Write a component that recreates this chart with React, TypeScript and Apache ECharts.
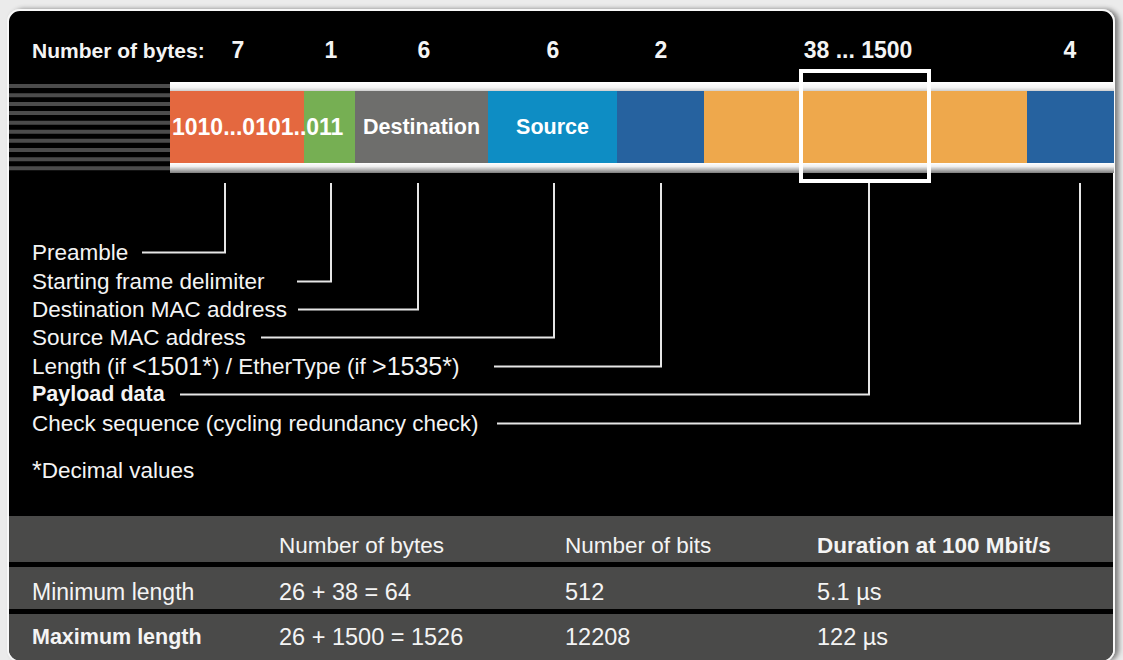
import React, { useEffect, useRef } from "react";
import * as echarts from "echarts";

// ---------------- data ----------------
const headerLabel = "Number of bytes:";
const fieldNames = [
  "Preamble",
  "Starting frame delimiter",
  "Destination MAC address",
  "Source MAC address",
  "Length (if <1501*) / EtherType (if >1535*)",
  "Payload data",
  "Check sequence (cycling redundancy check)",
];
const byteCounts = ["7", "1", "6", "6", "2", "38 ... 1500", "4"];
const segmentLabels = ["1010...0101..011", "", "Destination", "Source", "", "", ""];
const footnote = "*Decimal values";
const tableColumns = ["", "Number of bytes", "Number of bits", "Duration at 100 Mbit/s"];
const minimumRow = ["Minimum length", "26 + 38 = 64", "512", "5.1 µs"];
const maximumRow = ["Maximum length", "26 + 1500 = 1526", "12208", "122 µs"];

// ---------------- layout / style ----------------
const W = 1123;
const H = 660;
const FONT = '"Liberation Sans", Arial, sans-serif';
const segmentEdges = [170, 304, 355, 488, 617, 704, 1027, 1114];
const segmentColors = ["#E4683F", "#76AF53", "#6E6E6C", "#0E8DC4", "#26629F", "#EEA84C", "#26629F"];
const byteLabelX = [238, 331, 424, 553, 661, 858, 1070];
const calloutX = [225, 331, 418, 554, 661, 869, 1080];
const calloutStartX = [142, 297, 298, 261, 494, 180, 497];
const rowY = [252, 281, 309, 337, 366, 394, 423];
const boldRow = 5;
const tableColX = [32, 279, 565, 817];
const tableRowY = [545, 592, 637];
const BAR_TOP = 91;
const BAR_BOTTOM = 163;
const HIGHLIGHT = { x0: 801, x1: 929, y0: 71, y1: 181 };
const stripeY = [84, 93.3, 102, 111, 120.7, 129.7, 138.7, 148, 157.3, 166.3];

// wraps digits and symbols that the reference font draws larger
function richify(s: string) {
  return s.replace(/([<>*]?[0-9]+\*?|\*)/g, (m) => `{n|${m}}`);
}

function txt(text: string, x: number, y: number, size: number, bold = false, align = "left", bigDigits = 0) {
  const style: any = {
    text: bigDigits ? richify(text) : text,
    fill: "#f4f4f4",
    font: `${bold ? "bold " : ""}${size}px ${FONT}`,
    align,
    verticalAlign: "middle",
    textAlign: align,
    textVerticalAlign: "middle",
  };
  if (bigDigits) {
    style.rich = {
      n: {
        fill: "#f4f4f4",
        font: `${bold ? "bold " : ""}${bigDigits}px ${FONT}`,
        verticalAlign: "middle",
      },
    };
  }
  return { type: "text", x, y, silent: true, style };
}

export default function App() {
  const ref = useRef<HTMLDivElement>(null);

  useEffect(() => {
    if (!ref.current) return;
    const chart = echarts.init(ref.current, undefined, { renderer: "svg" });

    const elements: any[] = [];
    // panel with shadow
    elements.push({
      type: "rect",
      shape: { x: 8, y: 10, width: 1106, height: 651, r: 12 },
      style: {
        fill: "#000",
        stroke: "#f8f8f8",
        lineWidth: 2,
        shadowBlur: 5,
        shadowOffsetX: 4,
        shadowOffsetY: 0,
        shadowColor: "rgba(0,0,0,0.45)",
      },
    });
    // stripes on the left
    stripeY.forEach((y) => {
      elements.push({ type: "rect", shape: { x: 9, y, width: 161, height: 4 }, style: { fill: "#4b4b4b" } });
    });
    // frame strips
    elements.push({
      type: "rect",
      shape: { x: 170, y: 82, width: 944, height: 9 },
      style: {
        fill: new echarts.graphic.LinearGradient(0, 0, 0, 1, [
          { offset: 0, color: "#ffffff" },
          { offset: 0.6, color: "#f3f3f3" },
          { offset: 1, color: "#cfcfcf" },
        ]),
      },
    });
    elements.push({
      type: "rect",
      shape: { x: 170, y: 163, width: 944, height: 10 },
      style: {
        fill: new echarts.graphic.LinearGradient(0, 0, 0, 1, [
          { offset: 0, color: "#ffffff" },
          { offset: 0.35, color: "#eeeeee" },
          { offset: 1, color: "#7d7d7d" },
        ]),
      },
    });
    // header
    elements.push(txt(headerLabel, 32, 50, 21, true));
    byteCounts.forEach((b, i) => elements.push(txt(b, byteLabelX[i], 50, 23, true, "center")));
    // callouts
    fieldNames.forEach((name, i) => {
      if (i === boldRow) elements.push(txt(name, 32, rowY[i], 21.5, true));
      else if (i === 4) elements.push(txt(name, 32, rowY[i], 22.5, false, "left", 25));
      else elements.push(txt(name, 32, rowY[i], 22.5));
      elements.push({
        type: "polyline",
        silent: true,
        shape: { points: [[calloutStartX[i], rowY[i] + 0.5], [calloutX[i], rowY[i] + 0.5], [calloutX[i], 183]] },
        style: { stroke: "#e6e6e6", lineWidth: 2, fill: "none" },
      });
    });
    elements.push(txt(footnote, 32, 470, 22.5, false, "left", 25));
    // table
    elements.push({ type: "rect", shape: { x: 9, y: 516, width: 1104, height: 46 }, style: { fill: "#4a4a49" } });
    elements.push({ type: "rect", shape: { x: 9, y: 567, width: 1104, height: 42 }, style: { fill: "#4a4a49" } });
    elements.push({
      type: "rect",
      shape: { x: 9, y: 614, width: 1104, height: 46.5, r: [0, 0, 11, 11] },
      style: { fill: "#4a4a49" },
    });
    tableColumns.forEach((c, j) => {
      if (c) elements.push(txt(c, tableColX[j], tableRowY[0], j === 3 ? 22.5 : 22.5, j === 3));
    });
    minimumRow.forEach((c, j) => elements.push(txt(c, tableColX[j], tableRowY[1], j === 0 ? 23 : 23.5)));
    maximumRow.forEach((c, j) =>
      elements.push(txt(c, tableColX[j], tableRowY[2], j === 0 ? 21.5 : 23.5, j === 0))
    );

    const segData = segmentLabels.map((_, i) => [segmentEdges[i], segmentEdges[i + 1], i]);

    const renderItem = (params: any, api: any) => {
      const i = params.dataIndex;
      const a = api.coord([api.value(0), BAR_TOP]);
      const b = api.coord([api.value(1), BAR_BOTTOM]);
      const children: any[] = [
        {
          type: "rect",
          z2: 1,
          shape: { x: a[0], y: a[1], width: b[0] - a[0], height: b[1] - a[1] },
          style: { fill: segmentColors[i] },
        },
      ];
      const label = segmentLabels[i];
      if (label) {
        const left = i === 0;
        children.push({
          type: "text",
          z2: 10,
          x: left ? a[0] + 2 : (a[0] + b[0]) / 2,
          y: (a[1] + b[1]) / 2,
          style: {
            text: label,
            fill: "#ffffff",
            font: `bold ${left ? 23 : 21.5}px ${FONT}`,
            align: left ? "left" : "center",
            verticalAlign: "middle",
          },
        });
      }
      if (i === boldRow) {
        const p = api.coord([HIGHLIGHT.x0, HIGHLIGHT.y0]);
        const q = api.coord([HIGHLIGHT.x1, HIGHLIGHT.y1]);
        children.push({
          type: "rect",
          z2: 20,
          shape: { x: p[0], y: p[1], width: q[0] - p[0], height: q[1] - p[1] },
          style: { fill: "none", stroke: "#ffffff", lineWidth: 4 },
        });
      }
      return { type: "group", children };
    };

    chart.setOption({
      animation: false,
      backgroundColor: "#ebebeb",
      grid: { left: 0, top: 0, width: W, height: H, show: false },
      xAxis: { type: "value", min: 0, max: W, show: false },
      yAxis: { type: "value", min: 0, max: H, inverse: true, show: false },
      graphic: { elements },
      series: [
        {
          type: "custom",
          z: 5,
          clip: false,
          silent: true,
          renderItem,
          data: segData,
        },
      ],
    });

    return () => chart.dispose();
  }, []);

  return <div ref={ref} style={{ position: "fixed", left: 0, top: 0, width: W, height: H }} />;
}
